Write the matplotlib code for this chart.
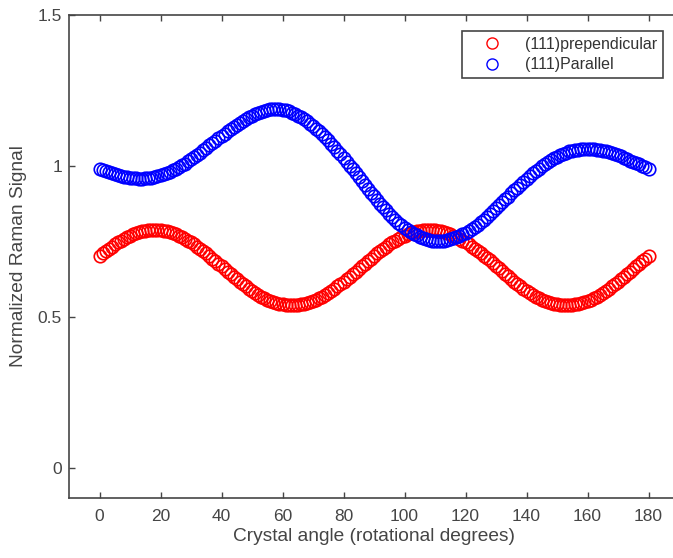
import matplotlib
matplotlib.use("Agg")
import matplotlib.pyplot as plt

plt.rcParams["font.family"] = ["Liberation Sans", "DejaVu Sans"]

# rotation angle in degrees, one sample per degree
angle = list(range(0, 181))

# (111) perpendicular, red
perpendicular = [
    0.702, 0.710, 0.718, 0.726, 0.733, 0.740, 0.747, 0.753, 0.759, 0.764,
    0.769, 0.773, 0.777, 0.781, 0.783, 0.785, 0.787, 0.788, 0.788, 0.788,
    0.787, 0.785, 0.783, 0.781, 0.777, 0.773, 0.769, 0.764, 0.759, 0.753,
    0.747, 0.740, 0.733, 0.726, 0.718, 0.710, 0.702, 0.693, 0.685, 0.676,
    0.667, 0.659, 0.650, 0.641, 0.633, 0.624, 0.616, 0.608, 0.601, 0.593,
    0.586, 0.579, 0.573, 0.567, 0.562, 0.557, 0.553, 0.549, 0.546, 0.543,
    0.541, 0.539, 0.538, 0.538, 0.538, 0.539, 0.541, 0.543, 0.546, 0.549,
    0.553, 0.557, 0.562, 0.567, 0.573, 0.579, 0.586, 0.593, 0.601, 0.608,
    0.616, 0.624, 0.633, 0.641, 0.650, 0.659, 0.667, 0.676, 0.685, 0.693,
    0.702, 0.710, 0.718, 0.726, 0.733, 0.740, 0.747, 0.753, 0.759, 0.764,
    0.769, 0.773, 0.777, 0.781, 0.783, 0.785, 0.787, 0.788, 0.788, 0.788,
    0.787, 0.785, 0.783, 0.781, 0.777, 0.773, 0.769, 0.764, 0.759, 0.753,
    0.747, 0.740, 0.733, 0.726, 0.719, 0.711, 0.703, 0.695, 0.687, 0.678,
    0.669, 0.661, 0.652, 0.643, 0.634, 0.625, 0.617, 0.609, 0.601, 0.593,
    0.586, 0.579, 0.573, 0.567, 0.562, 0.557, 0.553, 0.549, 0.546, 0.543,
    0.541, 0.539, 0.538, 0.538, 0.538, 0.539, 0.541, 0.543, 0.546, 0.549,
    0.553, 0.557, 0.562, 0.567, 0.573, 0.579, 0.586, 0.593, 0.601, 0.608,
    0.616, 0.624, 0.633, 0.641, 0.650, 0.659, 0.667, 0.676, 0.685, 0.693,
    0.702,
]

# (111) parallel, blue
parallel = [
    0.991, 0.987, 0.983, 0.979, 0.976, 0.972, 0.969, 0.966, 0.964, 0.962,
    0.960, 0.959, 0.959, 0.957, 0.958, 0.959, 0.960, 0.961, 0.963, 0.966,
    0.969, 0.973, 0.976, 0.980, 0.986, 0.991, 0.996, 1.002, 1.008, 1.015,
    1.022, 1.029, 1.037, 1.044, 1.052, 1.060, 1.068, 1.076, 1.084, 1.092,
    1.100, 1.107, 1.115, 1.123, 1.130, 1.137, 1.143, 1.150, 1.156, 1.162,
    1.167, 1.172, 1.177, 1.180, 1.183, 1.185, 1.187, 1.188, 1.188, 1.188,
    1.186, 1.184, 1.181, 1.177, 1.173, 1.167, 1.161, 1.155, 1.148, 1.140,
    1.132, 1.124, 1.115, 1.106, 1.095, 1.085, 1.074, 1.063, 1.050, 1.039,
    1.027, 1.014, 1.001, 0.989, 0.976, 0.962, 0.950, 0.937, 0.924, 0.912,
    0.899, 0.887, 0.875, 0.863, 0.853, 0.842, 0.831, 0.822, 0.812, 0.804,
    0.796, 0.789, 0.782, 0.775, 0.770, 0.765, 0.761, 0.757, 0.755, 0.753,
    0.751, 0.751, 0.752, 0.752, 0.754, 0.757, 0.760, 0.764, 0.768, 0.773,
    0.778, 0.785, 0.791, 0.798, 0.806, 0.814, 0.822, 0.832, 0.840, 0.850,
    0.860, 0.869, 0.879, 0.889, 0.898, 0.909, 0.919, 0.928, 0.937, 0.948,
    0.957, 0.966, 0.975, 0.983, 0.991, 0.999, 1.006, 1.013, 1.019, 1.025,
    1.030, 1.036, 1.040, 1.044, 1.048, 1.050, 1.052, 1.054, 1.055, 1.056,
    1.056, 1.056, 1.055, 1.054, 1.053, 1.051, 1.048, 1.045, 1.042, 1.039,
    1.035, 1.032, 1.027, 1.023, 1.018, 1.014, 1.010, 1.005, 1.000, 0.996,
    0.991,
]

series_labels = ["(111)prependicular", "(111)Parallel"]
x_ticks = [0, 20, 40, 60, 80, 100, 120, 140, 160, 180]
y_ticks = [0, 0.5, 1, 1.5]
y_tick_labels = ["0", "0.5", "1", "1.5"]

axis_color = "#454545"

W, H = 673, 558
fig = plt.figure(figsize=(W / 100, H / 100), dpi=100)
# right edge of the box sits just past the picture, as in the reference
ax = fig.add_axes([69 / W, 60 / H, 610 / W, 483 / H])

ax.plot(angle, perpendicular, "o", mfc="none", mec="#ff0000", ms=9, mew=1.2,
        label=series_labels[0])
ax.plot(angle, parallel, "o", mfc="none", mec="#0000ff", ms=9, mew=1.2,
        label=series_labels[1])

ax.set_xlim(-10, 190)
ax.set_ylim(-0.1, 1.5)
ax.set_xticks(x_ticks)
ax.set_yticks(y_ticks)
ax.set_yticklabels(y_tick_labels)

ax.tick_params(direction="in", top=True, right=True, length=4, width=1.0,
               colors=axis_color, labelsize=12.5)
ax.tick_params(axis="x", pad=8)
ax.tick_params(axis="y", pad=5)
for s in ax.spines.values():
    s.set_color(axis_color)
    s.set_linewidth(1.2)

ax.set_xlabel("Crystal angle (rotational degrees)", fontsize=13.8,
              color=axis_color, labelpad=3)
ax.set_ylabel("Normalized Raman Signal", fontsize=13.8, color=axis_color,
              labelpad=8)

leg = ax.legend(loc="upper right", bbox_to_anchor=(663 / W, 1 - 31 / H),
                bbox_transform=fig.transFigure, borderaxespad=0,
                fontsize=11.5, numpoints=1, fancybox=False, framealpha=1,
                edgecolor=axis_color, borderpad=0.35, labelspacing=0.35,
                handlelength=3.0, handletextpad=0.6)
leg.get_frame().set_linewidth(1.2)
for h in leg.legend_handles:
    h.set_markersize(8)
    h.set_markeredgewidth(1.0)
for t in leg.get_texts():
    t.set_color("#333333")

fig.savefig("out.png", dpi=100)
